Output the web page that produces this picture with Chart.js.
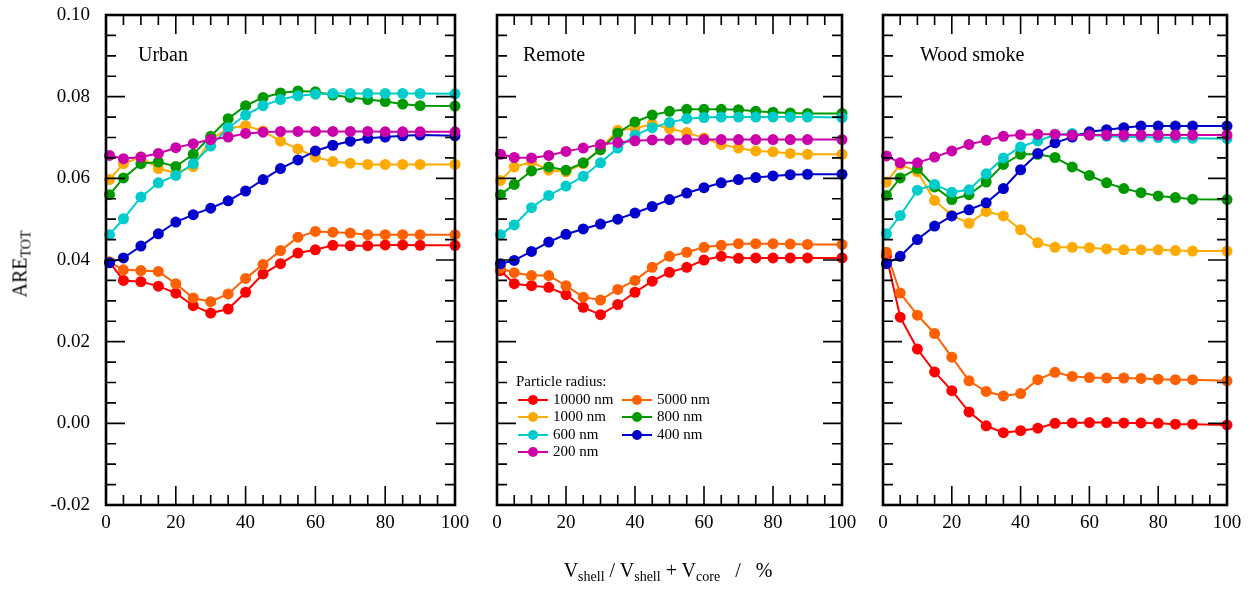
<!DOCTYPE html>
<html>
<head>
<meta charset="utf-8">
<script src="https://cdn.jsdelivr.net/npm/chart.js@4.4.0/dist/chart.umd.min.js"></script>
<style>
  html, body { margin: 0; padding: 0; background: #fff; }
  #wrap { position: relative; width: 1255px; height: 591px; font-family: "Liberation Serif", serif; color: #000; }
  #wrap canvas { position: absolute; left: 0; top: 0; }
  .ytitle { position: absolute; left: 20px; top: 264px; transform: translate(-50%, -50%) rotate(-90deg); font-size: 20px; white-space: nowrap; }
  .xtitle { position: absolute; left: 668px; top: 559px; transform: translateX(-50%); font-size: 20px; white-space: nowrap; }
  .xtitle sub, .ytitle sub { font-size: 14px; vertical-align: -4px; line-height: 0; }
  .legend { position: absolute; left: 516px; top: 373px; font-size: 15px; line-height: 17.5px; }
  .legend .row { position: relative; height: 17.5px; }
  .legend .item { position: absolute; top: 0; padding-left: 37px; white-space: nowrap; }
  .legend .sw { position: absolute; left: 2px; top: 8px; width: 30px; height: 2px; }
  .legend .sw::after { content: ''; position: absolute; left: 10px; top: -4px; width: 10px; height: 10px; border-radius: 50%; background: inherit; }
</style>
</head>
<body>
<div id="wrap">
  <canvas id="c1" width="1255" height="591"></canvas>
  <canvas id="c2" width="1255" height="591"></canvas>
  <canvas id="c3" width="1255" height="591"></canvas>
  <div class="ytitle">ARE<sub>TOT</sub></div>
  <div class="xtitle">V<sub>shell</sub> / V<sub>shell</sub> + V<sub>core</sub> &nbsp; / &nbsp; %</div>
  <div class="legend" id="legend"></div>
</div>
<script>
// x = shell volume fraction (%)
const shellFraction = [1, 5, 10, 15, 20, 25, 30, 35, 40, 45, 50, 55, 60, 65, 70, 75, 80, 85, 90, 100];

const seriesNames = ['10000 nm', '5000 nm', '1000 nm', '800 nm', '600 nm', '400 nm', '200 nm'];
const seriesColors = ['#ff0000', '#ff6000', '#ffaa00', '#009900', '#00cccc', '#0000cc', '#cc00aa'];
const panelTitles = ['Urban', 'Remote', 'Wood smoke'];

const xTickValues = [0, 20, 40, 60, 80, 100];
const xTickLabels = ['0', '20', '40', '60', '80', '100'];
const yTickValues = [-0.02, 0, 0.02, 0.04, 0.06, 0.08, 0.10];
const yTickLabels = ['-0.02', '0.00', '0.02', '0.04', '0.06', '0.08', '0.10'];

// Urban
const urban10000 = [0.0395, 0.0350, 0.0347, 0.0336, 0.0319, 0.0288, 0.0270, 0.0280, 0.0321, 0.0366, 0.0391, 0.0417, 0.0425, 0.0436, 0.0435, 0.0435, 0.0437, 0.0437, 0.0436, 0.0436];
const urban5000 = [0.0395, 0.0376, 0.0374, 0.0372, 0.0342, 0.0307, 0.0298, 0.0317, 0.0355, 0.0389, 0.0423, 0.0456, 0.0470, 0.0468, 0.0466, 0.0462, 0.0462, 0.0462, 0.0462, 0.0462];
const urban1000 = [0.0597, 0.0636, 0.0652, 0.0624, 0.0613, 0.0629, 0.0695, 0.0722, 0.0729, 0.0716, 0.0691, 0.0672, 0.0652, 0.0641, 0.0637, 0.0634, 0.0634, 0.0634, 0.0634, 0.0634];
const urban800 = [0.0560, 0.0601, 0.0636, 0.0640, 0.0629, 0.0659, 0.0703, 0.0746, 0.0778, 0.0798, 0.0809, 0.0814, 0.0812, 0.0804, 0.0798, 0.0793, 0.0788, 0.0782, 0.0778, 0.0777];
const urban600 = [0.0462, 0.0501, 0.0554, 0.0589, 0.0607, 0.0636, 0.0679, 0.0724, 0.0755, 0.0778, 0.0793, 0.0802, 0.0806, 0.0808, 0.0808, 0.0808, 0.0808, 0.0808, 0.0808, 0.0807];
const urban400 = [0.0393, 0.0405, 0.0434, 0.0464, 0.0493, 0.0511, 0.0527, 0.0545, 0.0569, 0.0597, 0.0624, 0.0645, 0.0667, 0.0681, 0.0691, 0.0698, 0.0701, 0.0704, 0.0706, 0.0704];
const urban200 = [0.0656, 0.0648, 0.0652, 0.0661, 0.0675, 0.0685, 0.0695, 0.0701, 0.0710, 0.0713, 0.0715, 0.0715, 0.0715, 0.0715, 0.0715, 0.0715, 0.0714, 0.0714, 0.0714, 0.0714];

// Remote
const remote10000 = [0.0374, 0.0342, 0.0337, 0.0333, 0.0315, 0.0284, 0.0266, 0.0291, 0.0321, 0.0348, 0.0370, 0.0382, 0.0400, 0.0409, 0.0404, 0.0405, 0.0405, 0.0405, 0.0405, 0.0405];
const remote5000 = [0.0380, 0.0369, 0.0362, 0.0362, 0.0337, 0.0309, 0.0302, 0.0328, 0.0350, 0.0382, 0.0409, 0.0419, 0.0431, 0.0436, 0.0440, 0.0440, 0.0440, 0.0439, 0.0438, 0.0438];
const remote1000 = [0.0595, 0.0628, 0.0640, 0.0620, 0.0616, 0.0636, 0.0673, 0.0718, 0.0722, 0.0733, 0.0722, 0.0712, 0.0699, 0.0683, 0.0674, 0.0667, 0.0665, 0.0661, 0.0659, 0.0659];
const remote800 = [0.0560, 0.0585, 0.0618, 0.0628, 0.0620, 0.0638, 0.0670, 0.0711, 0.0738, 0.0755, 0.0764, 0.0769, 0.0769, 0.0769, 0.0768, 0.0764, 0.0762, 0.0760, 0.0759, 0.0759];
const remote600 = [0.0462, 0.0486, 0.0528, 0.0558, 0.0581, 0.0605, 0.0638, 0.0674, 0.0706, 0.0724, 0.0737, 0.0746, 0.0749, 0.0750, 0.0750, 0.0750, 0.0750, 0.0750, 0.0750, 0.0749];
const remote400 = [0.0391, 0.0399, 0.0421, 0.0444, 0.0463, 0.0476, 0.0488, 0.0500, 0.0515, 0.0531, 0.0548, 0.0564, 0.0577, 0.0589, 0.0597, 0.0602, 0.0606, 0.0609, 0.0610, 0.0610];
const remote200 = [0.0659, 0.0651, 0.0650, 0.0656, 0.0666, 0.0674, 0.0683, 0.0688, 0.0692, 0.0694, 0.0695, 0.0695, 0.0695, 0.0695, 0.0695, 0.0695, 0.0695, 0.0695, 0.0695, 0.0695];

// Wood smoke
const wood10000 = [0.0410, 0.0260, 0.0182, 0.0126, 0.0080, 0.0028, -0.0006, -0.0023, -0.0018, -0.0012, 0.0000, 0.0001, 0.0002, 0.0002, 0.0001, 0.0001, 0.0000, -0.0002, -0.0002, -0.0004];
const wood5000 = [0.0419, 0.0319, 0.0265, 0.0220, 0.0162, 0.0104, 0.0078, 0.0067, 0.0073, 0.0107, 0.0125, 0.0115, 0.0112, 0.0111, 0.0111, 0.0110, 0.0108, 0.0107, 0.0107, 0.0104];
const wood1000 = [0.0591, 0.0634, 0.0616, 0.0546, 0.0509, 0.0490, 0.0519, 0.0508, 0.0474, 0.0442, 0.0431, 0.0431, 0.0430, 0.0427, 0.0425, 0.0425, 0.0425, 0.0423, 0.0422, 0.0422];
const wood800 = [0.0558, 0.0601, 0.0624, 0.0579, 0.0548, 0.0560, 0.0591, 0.0634, 0.0659, 0.0659, 0.0651, 0.0628, 0.0607, 0.0589, 0.0575, 0.0565, 0.0557, 0.0553, 0.0549, 0.0548];
const wood600 = [0.0464, 0.0509, 0.0571, 0.0585, 0.0566, 0.0572, 0.0611, 0.0650, 0.0677, 0.0692, 0.0706, 0.0710, 0.0706, 0.0703, 0.0701, 0.0701, 0.0700, 0.0699, 0.0698, 0.0697];
const wood400 = [0.0391, 0.0409, 0.0450, 0.0483, 0.0508, 0.0523, 0.0540, 0.0575, 0.0621, 0.0661, 0.0687, 0.0701, 0.0714, 0.0719, 0.0724, 0.0728, 0.0728, 0.0728, 0.0728, 0.0728];
const wood200 = [0.0655, 0.0638, 0.0638, 0.0652, 0.0667, 0.0683, 0.0693, 0.0703, 0.0707, 0.0708, 0.0708, 0.0706, 0.0706, 0.0706, 0.0706, 0.0706, 0.0706, 0.0706, 0.0706, 0.0706];

const urbanSeries = [urban10000, urban5000, urban1000, urban800, urban600, urban400, urban200];
const remoteSeries = [remote10000, remote5000, remote1000, remote800, remote600, remote400, remote200];
const woodSeries = [wood10000, wood5000, wood1000, wood800, wood600, wood400, wood200];

Chart.defaults.font.family = '"Liberation Serif", "Times New Roman", serif';
Chart.defaults.color = '#000';

// box round the plot with inward ticks on all four sides + panel name
const frameTicks = {
  id: 'frameTicks',
  afterDraw(chart, args, opts) {
    const ctx = chart.ctx;
    const a = chart.chartArea;
    const xs = chart.scales.x, ys = chart.scales.y;
    ctx.save();
    ctx.strokeStyle = '#000';
    ctx.lineWidth = 1.6;
    ctx.beginPath();
    for (let i = 0; i <= 20; i++) {
      const px = xs.getPixelForValue(i * 5);
      const len = i % 4 === 0 ? 19 : 10;
      ctx.moveTo(px, a.bottom); ctx.lineTo(px, a.bottom - len);
      ctx.moveTo(px, a.top); ctx.lineTo(px, a.top + len);
    }
    for (let i = 0; i <= 24; i++) {
      const py = ys.getPixelForValue(-0.02 + i * 0.005);
      const len = i % 4 === 0 ? 19 : 10;
      ctx.moveTo(a.left, py); ctx.lineTo(a.left + len, py);
      ctx.moveTo(a.right, py); ctx.lineTo(a.right - len, py);
    }
    ctx.stroke();
    ctx.lineWidth = 2.6;
    ctx.strokeRect(a.left, a.top, a.right - a.left, a.bottom - a.top);

    ctx.fillStyle = '#000';
    ctx.font = '20px "Liberation Serif", serif';
    ctx.textBaseline = 'alphabetic';
    ctx.fillText(opts.title, a.left + opts.titleDx, a.top + 46);
    ctx.restore();
  }
};

function makePanel(id, series, title, area, showY, titleDx) {
  const datasets = series.map((vals, i) => ({
    label: seriesNames[i],
    data: vals.map((v, j) => ({ x: shellFraction[j], y: v })),
    borderColor: seriesColors[i],
    backgroundColor: seriesColors[i],
    borderWidth: 2,
    pointRadius: 5.5,
    pointBorderWidth: 0,
    pointBackgroundColor: seriesColors[i],
    tension: 0,
    clip: false,
    order: series.length - i  // later series on top, like the original
  }));

  return new Chart(document.getElementById(id), {
    type: 'line',
    data: { datasets },
    options: {
      responsive: false,
      animation: false,
      layout: {
        padding: { left: showY ? area.left - 100 : area.left, right: 1255 - area.right, top: area.top, bottom: 591 - area.bottom - 45 }
      },
      scales: {
        x: {
          type: 'linear',
          min: 0,
          max: 100,
          grid: { display: false, drawTicks: false },
          border: { display: false },
          afterBuildTicks: s => { s.ticks = xTickValues.map(v => ({ value: v })); },
          afterFit: s => { s.height = 45; s.paddingLeft = 0; s.paddingRight = 0; },
          ticks: {
            padding: 7,
            maxRotation: 0,
            font: { size: 19 },
            callback: (v, i) => xTickLabels[i]
          }
        },
        y: {
          type: 'linear',
          min: -0.02,
          max: 0.10,
          grid: { display: false, drawTicks: false },
          border: { display: false },
          afterBuildTicks: s => { s.ticks = yTickValues.map(v => ({ value: v })); },
          afterFit: s => { s.width = showY ? 100 : 0; s.paddingTop = 0; s.paddingBottom = 0; },
          ticks: {
            display: showY,
            padding: 16,
            font: { size: 19 },
            callback: (v, i) => yTickLabels[i]
          }
        }
      },
      plugins: {
        legend: { display: false },
        tooltip: { enabled: false },
        frameTicks: { title: title, titleDx: titleDx }
      }
    },
    plugins: [frameTicks]
  });
}

makePanel('c1', urbanSeries, panelTitles[0], { left: 106, right: 455, top: 15, bottom: 505 }, true, 32);
makePanel('c2', remoteSeries, panelTitles[1], { left: 497, right: 842, top: 15, bottom: 505 }, false, 26);
makePanel('c3', woodSeries, panelTitles[2], { left: 883, right: 1227, top: 15, bottom: 505 }, false, 37);

// legend inside the Remote panel, two columns
const legendEl = document.getElementById('legend');
let html = '<div class="row">Particle radius:</div>';
for (let r = 0; r < Math.ceil(seriesNames.length / 2); r++) {
  html += '<div class="row">';
  for (let c = 0; c < 2; c++) {
    const k = r * 2 + c;
    if (k >= seriesNames.length) break;
    html += `<div class="item" style="left:${c * 104}px"><span class="sw" style="background:${seriesColors[k]}"></span>${seriesNames[k]}</div>`;
  }
  html += '</div>';
}
legendEl.innerHTML = html;
</script>
</body>
</html>
